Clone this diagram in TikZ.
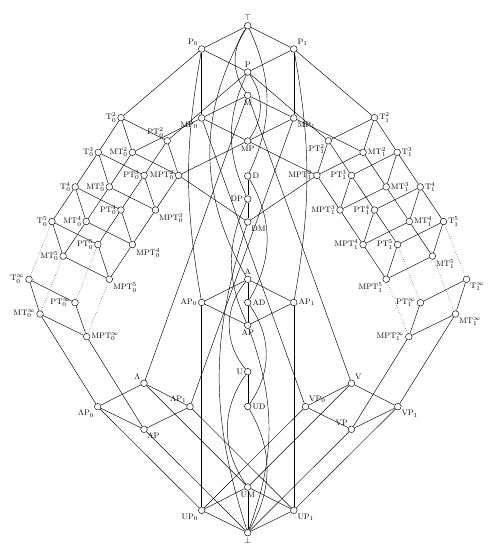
\documentclass[tikz,border=0pt]{standalone}
\usepackage{amsmath, amssymb}
\usepackage{tikz}
\usetikzlibrary{positioning}

\begin{document}
\begin{tikzpicture}[
      x=1pt, y=-1pt,
      cl/.style={circle,draw,fill=white,inner sep=0pt,minimum size=6.6pt},
      every label/.style={font=\footnotesize,inner sep=1pt},
      label distance=0pt,
      line width=0.45pt
    ]
    \useasboundingbox (0,0) rectangle (500,554);

    % Centre column
    \node[cl,label={above:$\top$}] (top) at (247.75,25.7) {};
    \node[cl,label={above left:$\mathrm{P}_0$}] (P0) at (201.7,49) {};
    \node[cl,label={above right:$\mathrm{P}_1$}] (P1) at (293.8,49) {};
    \node[cl,label={above:$\mathrm{P}$}] (P) at (247.75,72) {};
    \node[cl,label={below:$\mathrm{M}$}] (M) at (247.75,95.3) {};
    \node[cl,label={below left:$\mathrm{MP}_0$}] (MP0) at (201.7,118) {};
    \node[cl,label={below right:$\mathrm{MP}_1$}] (MP1) at (293.8,118) {};
    \node[cl,label={below:$\mathrm{MP}$}] (MP) at (247.75,141) {};
    \node[cl,label={right:$\mathrm{D}$}] (D) at (247.75,176) {};
    \node[cl,label={left:$\mathrm{DP}$}] (DP) at (247.75,199) {};
    \node[cl,label={below right:$\mathrm{DM}$}] (DM) at (247.75,222) {};
    \node[cl,label={above:$\mathrm{A}$}] (A) at (247.75,279.3) {};
    \node[cl,label={left:$\mathrm{AP}_0$}] (AP0) at (201.7,302.5) {};
    \node[cl,label={right:$\mathrm{AD}$}] (AD) at (247.75,302.5) {};
    \node[cl,label={right:$\mathrm{AP}_1$}] (AP1) at (293.8,302.5) {};
    \node[cl,label={below:$\mathrm{AP}$}] (AP) at (247.75,325.3) {};
    \node[cl,label={left:$\mathrm{U}$}] (U) at (247.75,371.7) {};
    \node[cl,label={right:$\mathrm{UD}$}] (UD) at (247.75,406.5) {};
    \node[cl,label={below:$\mathrm{UM}$}] (UM) at (247.75,487) {};
    \node[cl,label={below:$\bot$}] (bot) at (247.75,532.7) {};
    \node[cl,label={below left:$\mathrm{UP}_0$}] (UP0) at (201.7,510.3) {};
    \node[cl,label={below right:$\mathrm{UP}_1$}] (UP1) at (293.8,510.3) {};

    % Lambda and V
    \node[cl,label={above left:$\Lambda$}] (Lam) at (144,383.3) {};
    \node[cl,label={below left:$\Lambda\mathrm{P}_0$}] (LamP0) at (97.7,406.7) {};
    \node[cl,label={above left:$\Lambda\mathrm{P}_1$}] (LamP1) at (190,406.7) {};
    \node[cl,label={below right:$\Lambda\mathrm{P}$}] (LamP) at (144,429.3) {};
    \node[cl,label={above right:$\mathrm{V}$}] (V) at (351.5,383.3) {};
    \node[cl,label={above right:$\mathrm{VP}_0$}] (VP0) at (305.5,406.7) {};
    \node[cl,label={below right:$\mathrm{VP}_1$}] (VP1) at (397.8,406.7) {};
    \node[cl,label={above left:$\mathrm{VP}$}] (VP) at (351.5,429.3) {};

    % T_0 side
    \node[cl,label={left:$\mathrm{T}_0^2$}] (T02) at (121,117.7) {};
    \node[cl,label={left:$\mathrm{T}_0^3$}] (T03) at (98.3,152.3) {};
    \node[cl,label={left:$\mathrm{T}_0^4$}] (T04) at (75.2,186.9) {};
    \node[cl,label={left:$\mathrm{T}_0^5$}] (T05) at (52,221.5) {};
    \node[cl,label={left:$\mathrm{T}_0^\infty$}] (T0inf) at (29,279.3) {};
    \node[cl,label={left:$\mathrm{MT}_0^2$}] (MT02) at (132.4,152.3) {};
    \node[cl,label={left:$\mathrm{MT}_0^3$}] (MT03) at (109.3,186.9) {};
    \node[cl,label={left:$\mathrm{MT}_0^4$}] (MT04) at (86.2,221.5) {};
    \node[cl,label={left:$\mathrm{MT}_0^5$}] (MT05) at (63.1,256.1) {};
    \node[cl,label={left:$\mathrm{MT}_0^\infty$}] (MT0inf) at (40,314) {};
    \node[cl,label={above left:$\mathrm{PT}_0^2$}] (PT02) at (167.2,140.8) {};
    \node[cl,label={left:$\mathrm{PT}_0^3$}] (PT03) at (144.1,175.4) {};
    \node[cl,label={left:$\mathrm{PT}_0^4$}] (PT04) at (121,210) {};
    \node[cl,label={left:$\mathrm{PT}_0^5$}] (PT05) at (97.9,244.6) {};
    \node[cl,label={left:$\mathrm{PT}_0^\infty$}] (PT0inf) at (75,302.7) {};
    \node[cl,label={left:$\mathrm{MPT}_0^2$}] (MPT02) at (178.6,175.4) {};
    \node[cl,label={below right:$\mathrm{MPT}_0^3$}] (MPT03) at (155.5,210) {};
    \node[cl,label={below right:$\mathrm{MPT}_0^4$}] (MPT04) at (132.4,244.6) {};
    \node[cl,label={below right:$\mathrm{MPT}_0^5$}] (MPT05) at (109.3,279.2) {};
    \node[cl,label={right:$\mathrm{MPT}_0^\infty$}] (MPT0inf) at (86.7,336.7) {};

    % T_1 side
    \node[cl,label={right:$\mathrm{T}_1^2$}] (T12) at (374.5,117.7) {};
    \node[cl,label={right:$\mathrm{T}_1^3$}] (T13) at (397.2,152.3) {};
    \node[cl,label={right:$\mathrm{T}_1^4$}] (T14) at (420.3,186.9) {};
    \node[cl,label={right:$\mathrm{T}_1^5$}] (T15) at (443.5,221.5) {};
    \node[cl,label={below right:$\mathrm{T}_1^\infty$}] (T1inf) at (466.5,279.3) {};
    \node[cl,label={right:$\mathrm{MT}_1^2$}] (MT12) at (363.1,152.3) {};
    \node[cl,label={right:$\mathrm{MT}_1^3$}] (MT13) at (386.2,186.9) {};
    \node[cl,label={right:$\mathrm{MT}_1^4$}] (MT14) at (409.3,221.5) {};
    \node[cl,label={below right:$\mathrm{MT}_1^5$}] (MT15) at (432.4,256.1) {};
    \node[cl,label={below right:$\mathrm{MT}_1^\infty$}] (MT1inf) at (455.5,314) {};
    \node[cl,label={below left:$\mathrm{PT}_1^2$}] (PT12) at (328.3,140.8) {};
    \node[cl,label={left:$\mathrm{PT}_1^3$}] (PT13) at (351.4,175.4) {};
    \node[cl,label={left:$\mathrm{PT}_1^4$}] (PT14) at (374.5,210) {};
    \node[cl,label={left:$\mathrm{PT}_1^5$}] (PT15) at (397.6,244.6) {};
    \node[cl,label={left:$\mathrm{PT}_1^\infty$}] (PT1inf) at (420.5,302.7) {};
    \node[cl,label={left:$\mathrm{MPT}_1^2$}] (MPT12) at (316.9,175.4) {};
    \node[cl,label={left:$\mathrm{MPT}_1^3$}] (MPT13) at (340,210) {};
    \node[cl,label={left:$\mathrm{MPT}_1^4$}] (MPT14) at (363.1,244.6) {};
    \node[cl,label={below left:$\mathrm{MPT}_1^5$}] (MPT15) at (386.2,279.2) {};
    \node[cl,label={left:$\mathrm{MPT}_1^\infty$}] (MPT1inf) at (408.8,336.7) {};

    % Upper part
    \draw (top) -- (P0);
    \draw (top) -- (P1);
    \draw (top) to[bend right=35] (M);
    \draw (top) to[bend left=25] (D);
    \draw (top) to[bend right=30] (A);
    \draw (P0) -- (P);
    \draw (P0) -- (MP0);
    \draw (P0) -- (T02);
    \draw (P0) to[bend right=10] (AP0);
    \draw (P1) -- (P);
    \draw (P1) -- (MP1);
    \draw (P1) -- (T12);
    \draw (P1) to[bend left=10] (AP1);
    \draw (P) to[bend left=35] (MP);
    \draw (P) to[bend right=25] (DP);
    \draw (P) -- (PT02);
    \draw (P) -- (PT12);
    \draw (M) -- (MP0);
    \draw (M) -- (MP1);
    \draw (M) -- (Lam);
    \draw (M) -- (V);
    \draw (MP0) -- (MP);
    \draw (MP0) -- (MT02);
    \draw (MP0) -- (VP0);
    \draw (MP1) -- (MP);
    \draw (MP1) -- (MT12);
    \draw (MP1) -- (LamP1);
    \draw (MP) -- (MPT02);
    \draw (MP) -- (MPT12);

    % Self-dual and affine part
    \draw (D) -- (DP);
    \draw (D) to[bend left=30] (AD);
    \draw (DP) -- (DM);
    \draw (DP) to[bend right=25] (AP);
    \draw (DM) -- (MPT02);
    \draw (DM) -- (MPT12);
    \draw (DM) to[bend right=18] (bot);
    \draw (A) -- (AP0);
    \draw (A) -- (AP1);
    \draw (A) -- (AD);
    \draw (A) to[bend right=40] (U);
    \draw (AP0) -- (AP);
    \draw (AP1) -- (AP);
    \draw (AD) -- (AP);
    \draw (AP0) -- (UP0);
    \draw (AP1) -- (UP1);
    \draw (AD) to[bend left=35] (UD);
    \draw (AP) to[bend left=20] (bot);

    % Unary part
    \draw (U) -- (UD);
    \draw (U) to[bend right=35] (UM);
    \draw (UD) to[bend left=30] (bot);
    \draw (UM) -- (UP0);
    \draw (UM) -- (UP1);
    \draw (UM) -- (bot);
    \draw (UP0) -- (bot);
    \draw (UP1) -- (bot);

    % Lambda and V
    \draw (Lam) -- (LamP0);
    \draw (Lam) -- (LamP1);
    \draw (Lam) -- (UM);
    \draw (LamP0) -- (LamP);
    \draw (LamP1) -- (LamP);
    \draw (LamP0) -- (UP0);
    \draw (LamP1) -- (UP1);
    \draw (LamP) -- (bot);
    \draw (LamP0) -- (MT0inf);
    \draw (LamP) -- (MPT0inf);
    \draw (V) -- (VP0);
    \draw (V) -- (VP1);
    \draw (V) -- (UM);
    \draw (VP0) -- (VP);
    \draw (VP1) -- (VP);
    \draw (VP0) -- (UP0);
    \draw (VP1) -- (UP1);
    \draw (VP) -- (bot);
    \draw (VP1) -- (MT1inf);
    \draw (VP) -- (MPT1inf);

    % T_0 chains
    \draw (T02) -- (T03) -- (T04) -- (T05);
    \draw (MT02) -- (MT03) -- (MT04) -- (MT05);
    \draw (PT02) -- (PT03) -- (PT04) -- (PT05);
    \draw (MPT02) -- (MPT03) -- (MPT04) -- (MPT05);
    \draw (T02) -- (PT02);
    \draw (T03) -- (PT03);
    \draw (T04) -- (PT04);
    \draw (T05) -- (PT05);
    \draw (T02) -- (MT02);
    \draw (T03) -- (MT03);
    \draw (T04) -- (MT04);
    \draw (T05) -- (MT05);
    \draw (PT02) -- (MPT02);
    \draw (PT03) -- (MPT03);
    \draw (PT04) -- (MPT04);
    \draw (PT05) -- (MPT05);
    \draw (MT02) -- (MPT02);
    \draw (MT03) -- (MPT03);
    \draw (MT04) -- (MPT04);
    \draw (MT05) -- (MPT05);
    \draw[dotted] (T05) -- (T0inf);
    \draw[dotted] (MT05) -- (MT0inf);
    \draw[dotted] (PT05) -- (PT0inf);
    \draw[dotted] (MPT05) -- (MPT0inf);
    \draw (T0inf) -- (PT0inf);
    \draw (T0inf) -- (MT0inf);
    \draw (PT0inf) -- (MPT0inf);
    \draw (MT0inf) -- (MPT0inf);

    % T_1 chains
    \draw (T12) -- (T13) -- (T14) -- (T15);
    \draw (MT12) -- (MT13) -- (MT14) -- (MT15);
    \draw (PT12) -- (PT13) -- (PT14) -- (PT15);
    \draw (MPT12) -- (MPT13) -- (MPT14) -- (MPT15);
    \draw (T12) -- (PT12);
    \draw (T13) -- (PT13);
    \draw (T14) -- (PT14);
    \draw (T15) -- (PT15);
    \draw (T12) -- (MT12);
    \draw (T13) -- (MT13);
    \draw (T14) -- (MT14);
    \draw (T15) -- (MT15);
    \draw (PT12) -- (MPT12);
    \draw (PT13) -- (MPT13);
    \draw (PT14) -- (MPT14);
    \draw (PT15) -- (MPT15);
    \draw (MT12) -- (MPT12);
    \draw (MT13) -- (MPT13);
    \draw (MT14) -- (MPT14);
    \draw (MT15) -- (MPT15);
    \draw[dotted] (T15) -- (T1inf);
    \draw[dotted] (MT15) -- (MT1inf);
    \draw[dotted] (PT15) -- (PT1inf);
    \draw[dotted] (MPT15) -- (MPT1inf);
    \draw (T1inf) -- (PT1inf);
    \draw (T1inf) -- (MT1inf);
    \draw (PT1inf) -- (MPT1inf);
    \draw (MT1inf) -- (MPT1inf);

  \end{tikzpicture}
\end{document}
